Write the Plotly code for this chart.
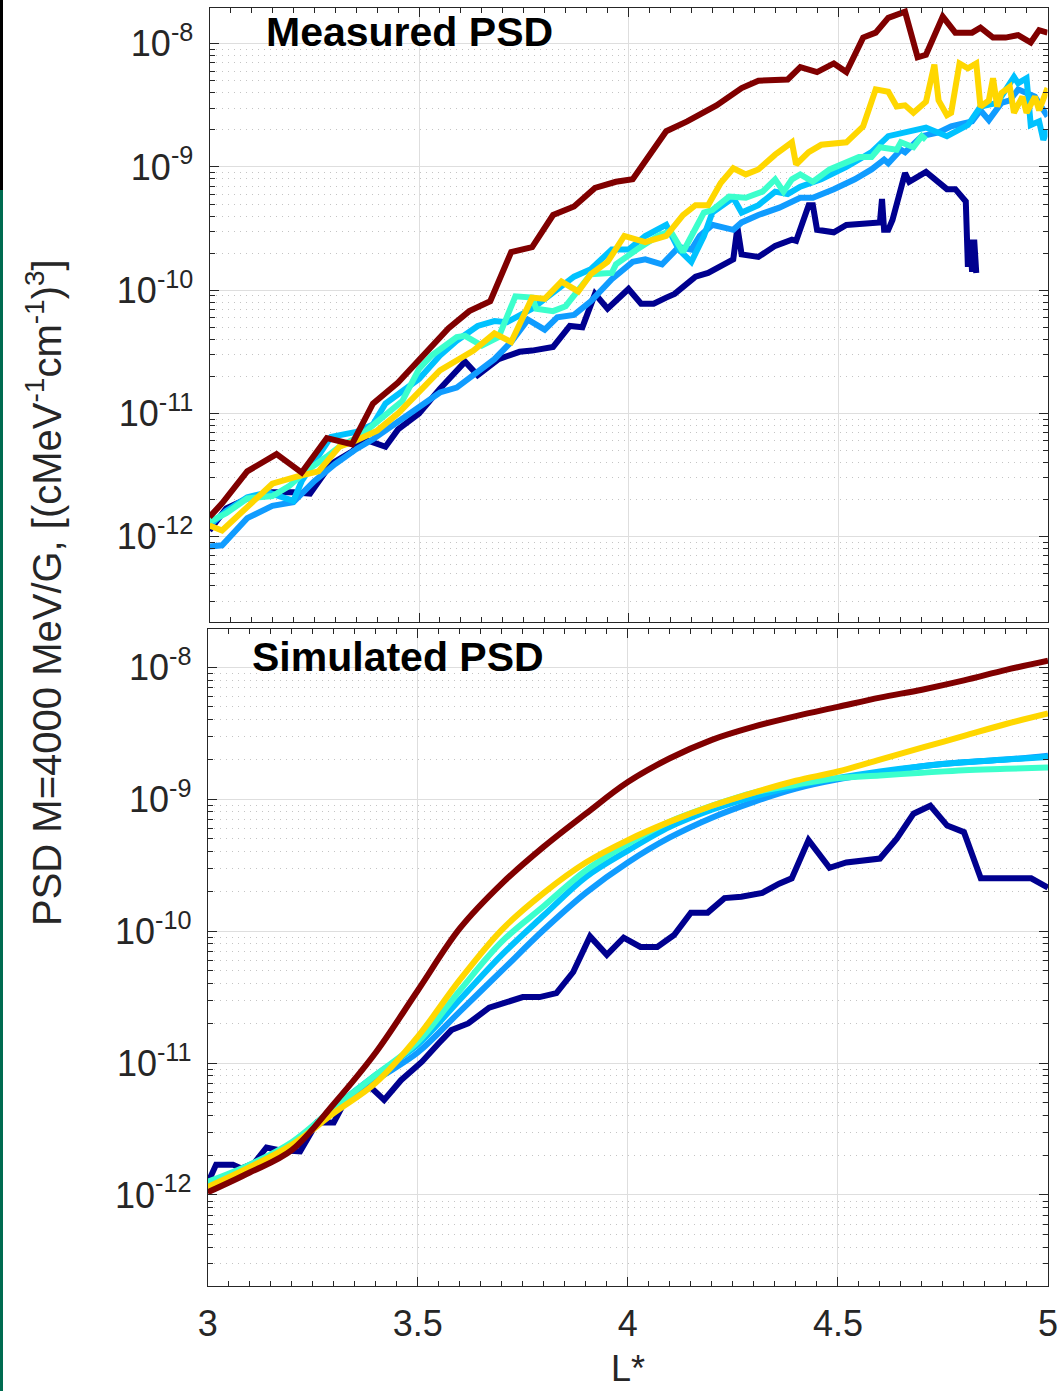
import numpy as np
import plotly.graph_objects as go

# ---------------- Measured PSD (L*, log10 PSD) ----------------
meas_navy_L = [3.00, 3.04, 3.09, 3.15, 3.20, 3.24, 3.29, 3.34, 3.37, 3.42, 3.45, 3.50, 3.55, 3.61, 3.64,
               3.69, 3.74, 3.77, 3.82, 3.86, 3.89, 3.92, 3.95, 4.00, 4.03, 4.06, 4.09, 4.11, 4.16, 4.19,
               4.25, 4.26, 4.27, 4.31, 4.35, 4.39, 4.40, 4.43, 4.44, 4.45, 4.49, 4.52, 4.60, 4.605, 4.61,
               4.62, 4.63, 4.66, 4.67, 4.71, 4.76, 4.78, 4.805, 4.81, 4.815, 4.82, 4.825, 4.83]
meas_navy_log = [-11.95, -11.77, -11.69, -11.64, -11.64, -11.65, -11.41, -11.31, -11.21, -11.27, -11.13, -11.00,
                 -10.80, -10.58, -10.69, -10.56, -10.50, -10.49, -10.46, -10.29, -10.30, -10.03, -10.15, -9.99,
                 -10.11, -10.11, -10.06, -10.03, -9.89, -9.86, -9.75, -9.49, -9.71, -9.73, -9.64, -9.59, -9.60,
                 -9.31, -9.31, -9.51, -9.53, -9.47, -9.45, -9.26, -9.51, -9.51, -9.43, -9.05, -9.12, -9.04,
                 -9.18, -9.18, -9.28, -9.81, -9.59, -9.85, -9.59, -9.86]

meas_dodger_L = [3.00, 3.03, 3.09, 3.15, 3.20, 3.25, 3.30, 3.35, 3.39, 3.45, 3.50, 3.55, 3.59, 3.64, 3.68,
                 3.72, 3.76, 3.80, 3.83, 3.87, 3.91, 3.96, 4.01, 4.04, 4.08, 4.12, 4.15, 4.17, 4.20, 4.25,
                 4.27, 4.31, 4.36, 4.41, 4.44, 4.49, 4.54, 4.58, 4.61, 4.62, 4.65, 4.66, 4.70, 4.74, 4.77,
                 4.82, 4.84, 4.86, 4.89, 4.91, 4.93, 4.97, 4.99, 5.00]
meas_dodger_log = [-12.08, -12.07, -11.85, -11.75, -11.72, -11.55, -11.41, -11.29, -11.21, -11.07, -10.95, -10.83,
                   -10.79, -10.66, -10.56, -10.42, -10.24, -10.32, -10.22, -10.20, -10.09, -9.91, -9.77, -9.75,
                   -9.79, -9.65, -9.67, -9.56, -9.47, -9.51, -9.45, -9.39, -9.33, -9.25, -9.25, -9.18, -9.10,
                   -9.02, -8.94, -8.97, -8.86, -8.88, -8.75, -8.72, -8.67, -8.63, -8.54, -8.62, -8.48, -8.46,
                   -8.37, -8.43, -8.54, -8.59]

meas_sky_L = [3.00, 3.04, 3.09, 3.14, 3.20, 3.22, 3.29, 3.35, 3.39, 3.42, 3.46, 3.50, 3.55, 3.59, 3.64, 3.68,
              3.71, 3.74, 3.77, 3.82, 3.87, 3.91, 3.96, 4.00, 4.04, 4.09, 4.12, 4.15, 4.18, 4.20, 4.25, 4.27,
              4.31, 4.35, 4.38, 4.41, 4.46, 4.52, 4.58, 4.62, 4.68, 4.71, 4.76, 4.81, 4.84, 4.88, 4.92, 4.93,
              4.95, 4.96, 4.98, 4.99, 5.00]
meas_sky_log = [-11.91, -11.79, -11.68, -11.64, -11.71, -11.55, -11.19, -11.15, -11.09, -10.92, -10.82, -10.72,
                -10.53, -10.41, -10.29, -10.25, -10.26, -10.21, -10.15, -10.02, -9.89, -9.83, -9.67, -9.67,
                -9.56, -9.47, -9.67, -9.77, -9.56, -9.37, -9.25, -9.37, -9.31, -9.20, -9.22, -9.16, -9.10,
                -9.00, -8.88, -8.75, -8.70, -8.68, -8.75, -8.66, -8.51, -8.48, -8.27, -8.32, -8.28, -8.66,
                -8.63, -8.78, -8.70]

meas_turq_L = [3.00, 3.04, 3.09, 3.15, 3.19, 3.23, 3.28, 3.31, 3.36, 3.41, 3.46, 3.50, 3.53, 3.59, 3.61, 3.65,
               3.69, 3.73, 3.77, 3.78, 3.82, 3.85, 3.91, 3.96, 3.97, 4.02, 4.07, 4.10, 4.13, 4.18, 4.20, 4.24,
               4.28, 4.32, 4.35, 4.37, 4.39, 4.41, 4.44, 4.48, 4.52, 4.55, 4.58, 4.60, 4.64, 4.65, 4.68, 4.70,
               4.71]
meas_turq_log = [-11.88, -11.81, -11.69, -11.67, -11.59, -11.47, -11.35, -11.27, -11.18, -11.04, -10.90, -10.64,
                 -10.53, -10.38, -10.37, -10.45, -10.38, -10.05, -10.06, -10.15, -10.17, -10.13, -9.87, -9.86,
                 -9.79, -9.67, -9.56, -9.52, -9.69, -9.37, -9.35, -9.24, -9.25, -9.20, -9.10, -9.20, -9.10,
                 -9.06, -9.12, -9.02, -8.97, -8.92, -8.92, -8.84, -8.86, -8.80, -8.84, -8.75, -8.78]

meas_gold_L = [3.00, 3.03, 3.09, 3.15, 3.21, 3.26, 3.31, 3.35, 3.40, 3.45, 3.51, 3.55, 3.63, 3.68, 3.72, 3.77,
               3.80, 3.84, 3.88, 3.91, 3.95, 3.99, 4.04, 4.09, 4.13, 4.16, 4.19, 4.22, 4.25, 4.28, 4.31, 4.35,
               4.39, 4.40, 4.43, 4.46, 4.52, 4.56, 4.59, 4.62, 4.64, 4.66, 4.68, 4.71, 4.73, 4.74, 4.76, 4.77,
               4.79, 4.81, 4.83, 4.84, 4.86, 4.87, 4.88, 4.89, 4.91, 4.92, 4.94, 4.95, 4.97, 4.98, 5.00]
meas_gold_log = [-11.91, -11.95, -11.76, -11.57, -11.51, -11.47, -11.27, -11.22, -11.14, -11.00, -10.79, -10.65,
                 -10.49, -10.35, -10.42, -10.06, -10.07, -9.93, -10.01, -9.87, -9.77, -9.56, -9.61, -9.56,
                 -9.39, -9.31, -9.31, -9.13, -9.01, -9.06, -9.02, -8.90, -8.80, -8.98, -8.88, -8.82, -8.80,
                 -8.67, -8.37, -8.39, -8.51, -8.50, -8.56, -8.47, -8.17, -8.46, -8.58, -8.56, -8.16, -8.20,
                 -8.16, -8.51, -8.46, -8.28, -8.51, -8.40, -8.35, -8.56, -8.43, -8.56, -8.43, -8.54, -8.36]

meas_maroon_L = [3.00, 3.03, 3.09, 3.16, 3.22, 3.28, 3.34, 3.39, 3.45, 3.51, 3.57, 3.62, 3.67, 3.72, 3.77, 3.82,
                 3.87, 3.92, 3.97, 4.01, 4.04, 4.09, 4.14, 4.21, 4.27, 4.31, 4.38, 4.41, 4.45, 4.49, 4.52, 4.56,
                 4.59, 4.62, 4.66, 4.69, 4.71, 4.75, 4.78, 4.82, 4.84, 4.87, 4.90, 4.93, 4.96, 4.98, 5.00]
meas_maroon_log = [-11.84, -11.73, -11.47, -11.33, -11.48, -11.20, -11.25, -10.92, -10.75, -10.53, -10.31, -10.17,
                   -10.09, -9.69, -9.65, -9.39, -9.32, -9.17, -9.12, -9.10, -8.96, -8.71, -8.63, -8.50, -8.36,
                   -8.30, -8.29, -8.19, -8.23, -8.16, -8.23, -7.95, -7.91, -7.79, -7.74, -8.11, -8.09, -7.78,
                   -7.91, -7.91, -7.87, -7.95, -7.95, -7.93, -7.99, -7.89, -7.91]

# ---------------- Simulated PSD ----------------
sim_navy_L = [3.00, 3.02, 3.06, 3.08, 3.11, 3.14, 3.17, 3.22, 3.26, 3.30, 3.33, 3.36, 3.39, 3.42, 3.46, 3.51,
              3.55, 3.58, 3.62, 3.67, 3.71, 3.75, 3.79, 3.83, 3.87, 3.91, 3.95, 3.99, 4.03, 4.07, 4.11, 4.15,
              4.19, 4.23, 4.27, 4.32, 4.36, 4.39, 4.43, 4.48, 4.52, 4.60, 4.64, 4.68, 4.72, 4.76, 4.80, 4.84,
              4.96, 5.00]
sim_navy_log = [-11.91, -11.77, -11.77, -11.80, -11.76, -11.64, -11.66, -11.67, -11.45, -11.45, -11.27, -11.20,
                -11.19, -11.28, -11.13, -10.99, -10.85, -10.75, -10.70, -10.58, -10.54, -10.50, -10.50, -10.47,
                -10.31, -10.04, -10.18, -10.05, -10.12, -10.12, -10.03, -9.86, -9.86, -9.75, -9.74, -9.71,
                -9.64, -9.60, -9.31, -9.52, -9.48, -9.45, -9.30, -9.11, -9.05, -9.20, -9.25, -9.60, -9.60,
                -9.67]

sim_L = [3.0, 3.1, 3.2, 3.3, 3.4, 3.5, 3.6, 3.7, 3.8, 3.9, 4.0, 4.1, 4.2, 4.3, 4.4, 4.5, 4.6, 4.7, 4.8, 4.9, 5.0]
sim_dodger_log = [-11.92, -11.79, -11.61, -11.36, -11.13, -10.92, -10.61, -10.30, -9.99, -9.71, -9.48, -9.29,
                  -9.14, -9.02, -8.92, -8.85, -8.80, -8.75, -8.72, -8.70, -8.67]
sim_sky_log = [-11.91, -11.78, -11.61, -11.34, -11.09, -10.86, -10.52, -10.18, -9.88, -9.59, -9.39, -9.21,
               -9.08, -8.98, -8.90, -8.84, -8.79, -8.75, -8.72, -8.70, -8.68]
sim_turq_log = [-11.90, -11.77, -11.60, -11.34, -11.09, -10.84, -10.45, -10.08, -9.81, -9.54, -9.34, -9.17,
                -9.05, -8.95, -8.89, -8.84, -8.82, -8.80, -8.78, -8.77, -8.76]
sim_gold_log = [-11.94, -11.79, -11.62, -11.38, -11.15, -10.80, -10.37, -9.99, -9.71, -9.48, -9.31, -9.17,
                -9.05, -8.95, -8.86, -8.79, -8.70, -8.61, -8.52, -8.43, -8.35]
sim_maroon_log = [-11.98, -11.83, -11.66, -11.31, -10.92, -10.45, -9.98, -9.64, -9.36, -9.11, -8.87, -8.69,
                  -8.55, -8.45, -8.37, -8.30, -8.23, -8.17, -8.10, -8.02, -7.95]

# axis ticks
x_tick_vals = [3, 3.5, 4, 4.5, 5]
x_tick_text = ["3", "3.5", "4", "4.5", "5"]
y_tick_exp = [-12, -11, -10, -9, -8]

COLORS = {
    "navy": "#00008F",
    "dodger": "#109CFF",
    "sky": "#00C2FF",
    "turq": "#3CFFCC",
    "gold": "#FFD700",
    "maroon": "#800000",
}
LW = 6

fig = go.Figure()

measured = [
    ("navy", meas_navy_L, meas_navy_log),
    ("dodger", meas_dodger_L, meas_dodger_log),
    ("sky", meas_sky_L, meas_sky_log),
    ("turq", meas_turq_L, meas_turq_log),
    ("gold", meas_gold_L, meas_gold_log),
    ("maroon", meas_maroon_L, meas_maroon_log),
]
for name, L, lg in measured:
    fig.add_trace(go.Scatter(x=L, y=10.0 ** np.array(lg), mode="lines",
                             line=dict(color=COLORS[name], width=LW),
                             xaxis="x2", yaxis="y2", showlegend=False))

fig.add_trace(go.Scatter(x=sim_navy_L, y=10.0 ** np.array(sim_navy_log), mode="lines",
                         line=dict(color=COLORS["navy"], width=LW), showlegend=False))
for name, lg in [("dodger", sim_dodger_log), ("sky", sim_sky_log), ("turq", sim_turq_log),
                 ("gold", sim_gold_log), ("maroon", sim_maroon_log)]:
    fig.add_trace(go.Scatter(x=sim_L, y=10.0 ** np.array(lg), mode="lines",
                             line=dict(color=COLORS[name], width=LW, shape="spline", smoothing=1.0),
                             showlegend=False))

W, H = 1061, 1391
FONT = "Liberation Sans, Arial, Helvetica, sans-serif"
AX = "#262626"
y_minor = [k * 10.0 ** e for e in range(-13, -7) for k in range(2, 10)]
y_tick_vals = [10.0 ** e for e in y_tick_exp]
y_tick_text = ["10<sup>%d</sup>" % e for e in y_tick_exp]

def xaxis_cfg(domain, labels):
    return dict(domain=domain, range=[3, 5], tickmode="array", tickvals=x_tick_vals,
                ticktext=x_tick_text, showticklabels=labels, ticks="inside", ticklen=9,
                tickwidth=1, tickcolor=AX, showline=True, linecolor=AX, linewidth=1, mirror="ticks",
                showgrid=True, gridcolor="#dedede", gridwidth=1, zeroline=False, automargin=False,
                tickfont=dict(family=FONT, size=36, color=AX), ticklabelstandoff=6,
                minor=dict(dtick=0.05, tick0=3, ticks="inside", ticklen=5, tickcolor=AX, showgrid=False))

def yaxis_cfg(domain, anchor):
    return dict(domain=domain, anchor=anchor, type="log", range=[-12.69, -7.71], tickmode="array",
                tickvals=y_tick_vals, ticktext=y_tick_text, ticks="inside", ticklen=9, tickwidth=1,
                tickcolor=AX, showline=True, linecolor=AX, linewidth=1, mirror="ticks",
                showgrid=True, gridcolor="#dedede", gridwidth=1, zeroline=False, automargin=False,
                tickfont=dict(family=FONT, size=36, color=AX), ticklabelstandoff=8,
                minor=dict(tickvals=y_minor, ticks="inside", ticklen=5, tickcolor=AX,
                           showgrid=True, gridcolor="#c4c4c4", griddash="1px,5px", gridwidth=1))

fig.update_layout(
    width=W, height=H, margin=dict(l=0, r=0, t=0, b=0, pad=0, autoexpand=False),
    paper_bgcolor="white", plot_bgcolor="white",
    xaxis=dict(anchor="y", **xaxis_cfg([207.7 / W, 1048 / W], True)),
    yaxis=yaxis_cfg([1 - 1286 / H, 1 - 629 / H], "x"),
    xaxis2=dict(anchor="y2", **xaxis_cfg([209.5 / W, 1047.5 / W], False)),
    yaxis2=yaxis_cfg([1 - 621.7 / H, 1 - 8 / H], "x2"),
    annotations=[
        dict(text="<b>Measured PSD</b>", x=409 / W, y=1 - 32 / H, xref="paper", yref="paper",
             xanchor="center", yanchor="middle", showarrow=False,
             font=dict(family=FONT, size=41, color="black")),
        dict(text="<b>Simulated PSD</b>", x=398 / W, y=1 - 657 / H, xref="paper", yref="paper",
             xanchor="center", yanchor="middle", showarrow=False,
             font=dict(family=FONT, size=41, color="black")),
        dict(text="PSD M=4000 MeV/G, [(cMeV<sup>-1</sup>cm<sup>-1</sup>)<sup>3</sup>]",
             x=44 / W, y=1 - 593 / H, xref="paper", yref="paper", textangle=-90,
             xanchor="center", yanchor="middle", showarrow=False,
             font=dict(family=FONT, size=40, color=AX)),
        dict(text="L*", x=628 / W, y=0, xref="paper", yref="paper",
             xanchor="center", yanchor="bottom", showarrow=False,
             font=dict(family=FONT, size=36, color=AX)),
    ],
    shapes=[
        dict(type="rect", xref="paper", yref="paper", x0=0, x1=3 / W, y0=1 - 190 / H, y1=1,
             fillcolor="black", line=dict(width=0), layer="above"),
        dict(type="rect", xref="paper", yref="paper", x0=0, x1=3 / W, y0=0, y1=1 - 190 / H,
             fillcolor="#006B50", line=dict(width=0), layer="above"),
    ],
)

fig.write_html("out.html")
